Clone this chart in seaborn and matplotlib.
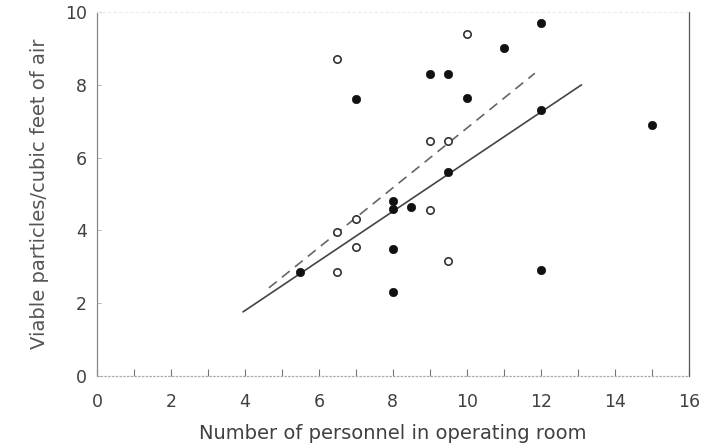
import matplotlib
matplotlib.use("Agg")
import matplotlib.pyplot as plt
import seaborn as sns
import pandas as pd

# Filled circles
filled_x = [5.5, 7, 8, 8, 8, 8, 8.5, 9, 9.5, 9.5, 10, 11, 12, 12, 12, 15]
filled_y = [2.85, 7.6, 4.8, 4.58, 3.5, 2.3, 4.65, 8.3, 8.3, 5.6, 7.65, 9.0, 9.7, 7.3, 2.9, 6.9]
# Open circles
open_x = [6.5, 6.5, 6.5, 7, 7, 9, 9, 9.5, 9.5, 10]
open_y = [8.7, 3.95, 2.85, 4.3, 3.55, 6.45, 4.55, 6.45, 3.15, 9.4]
# Regression lines (endpoints)
solid_x = [3.95, 13.1]
solid_y = [1.76, 8.0]
dashed_x = [4.65, 11.84]
dashed_y = [2.42, 8.32]

xticks = [0, 2, 4, 6, 8, 10, 12, 14, 16]
yticks = [0, 2, 4, 6, 8, 10]

sns.set_style("white")
plt.rcParams['font.family'] = ['DejaVu Sans']
txt = "#404040"

fig = plt.figure(figsize=(7.13, 4.48), dpi=100)
ax = fig.add_axes([0.136, 0.161, 0.830, 0.812])

df_f = pd.DataFrame({"x": filled_x, "y": filled_y})
df_o = pd.DataFrame({"x": open_x, "y": open_y})
df_s = pd.DataFrame({"x": solid_x, "y": solid_y})
df_d = pd.DataFrame({"x": dashed_x, "y": dashed_y})

sns.lineplot(data=df_s, x="x", y="y", ax=ax, color="#444444", lw=1.2)
sns.lineplot(data=df_d, x="x", y="y", ax=ax, color="#666666", lw=1.2, dashes=False, linestyle=(0, (6, 4)))
sns.scatterplot(data=df_f, x="x", y="y", ax=ax, color="#111111", s=36, edgecolor="#111111", linewidth=0.5, zorder=5)
sns.scatterplot(data=df_o, x="x", y="y", ax=ax, facecolor="white", s=28, edgecolor="#333333", linewidth=1.2, zorder=5)

ax.set_xlim(0, 16)
ax.set_ylim(0, 10)
ax.set_xticks(xticks)
ax.set_yticks(yticks)
ax.set_xticks([1, 3, 5, 7, 9, 11, 13, 15], minor=True)
ax.tick_params(axis="x", which="both", bottom=True, direction="in", length=5, width=0.8, color="#777777",
               labelsize=12.5, labelcolor=txt, pad=12)
ax.tick_params(axis="y", which="major", left=True, direction="in", length=3, width=0.6, color="#aaaaaa",
               labelsize=12.5, labelcolor=txt, pad=7)

for side in ["left", "bottom", "right"]:
    ax.spines[side].set_color("#888888")
    ax.spines[side].set_linewidth(0.9)
ax.spines["bottom"].set_linestyle((0, (1, 2)))
ax.spines["bottom"].set_color("#aaaaaa")
ax.spines["top"].set_color("#ebebeb")
ax.spines["top"].set_linestyle((0, (2, 3)))
ax.spines["right"].set_color("#555555")

ax.set_xlabel("Number of personnel in operating room", fontsize=14, color=txt, labelpad=10)
ax.set_ylabel("Viable particles/cubic feet of air", fontsize=14, color="#555555", labelpad=12)

fig.savefig("out.png", dpi=100)
